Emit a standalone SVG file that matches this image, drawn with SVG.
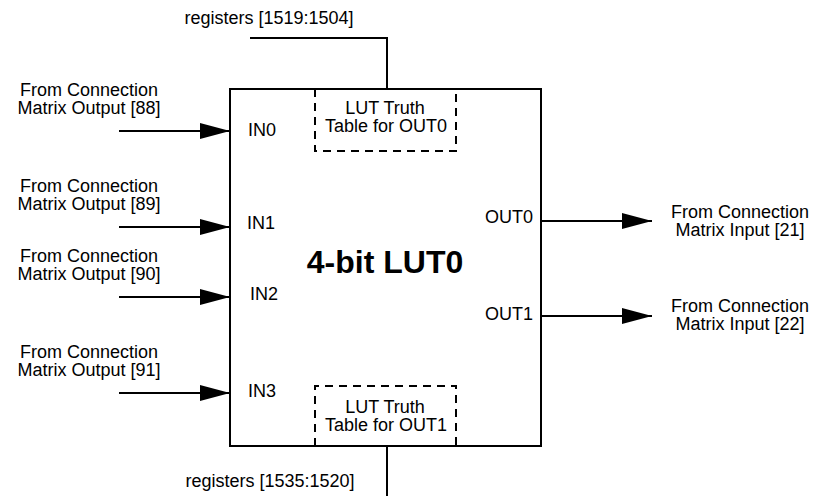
<svg xmlns="http://www.w3.org/2000/svg" width="816" height="496" viewBox="0 0 816 496">
<style>
text{font-family:"Liberation Sans",Arial,sans-serif;font-size:18px;fill:#000}
.c{text-anchor:middle}
.e{text-anchor:end}
.big{font-size:32px;font-weight:bold}
.w{stroke:#000;stroke-width:2;fill:none}
.d{stroke:#000;stroke-width:2;fill:none;stroke-dasharray:8 6}
</style>
<defs>
<marker id="ah" viewBox="0 0 30 16" refX="30" refY="8" markerWidth="30" markerHeight="16" markerUnits="userSpaceOnUse" orient="auto">
<path d="M0,0 L30,8 L0,16 z" fill="#000"/>
</marker>
</defs>
<rect width="816" height="496" fill="#fff"/>
<g id="lut0">
<rect class="w" x="230" y="89" width="311" height="357"/>
<text class="big c" x="385" y="273">4-bit LUT0</text>
<text x="248" y="136">IN0</text>
<text x="247" y="229">IN1</text>
<text x="250" y="300">IN2</text>
<text x="248" y="397">IN3</text>
<text class="e" x="533" y="223">OUT0</text>
<text class="e" x="533" y="320">OUT1</text>
</g>
<g id="truth0">
<path class="d" d="M315,89 V151 H456 V89"/>
<text class="c" x="385" y="114">LUT Truth</text>
<text class="c" x="386" y="132">Table for OUT0</text>
</g>
<g id="truth1">
<path class="d" d="M315,446 V386 H456 V446"/>
<text class="c" x="385" y="413">LUT Truth</text>
<text class="c" x="386" y="431">Table for OUT1</text>
</g>
<g id="reg-top"><text class="c" x="269" y="24">registers [1519:1504]</text></g>
<g id="reg-bot"><text class="c" x="270" y="487">registers [1535:1520]</text></g>
<g id="in88"><text class="c" x="89" y="96">From Connection</text><text class="c" x="89" y="114">Matrix Output [88]</text></g>
<g id="in89"><text class="c" x="89" y="192">From Connection</text><text class="c" x="89" y="210">Matrix Output [89]</text></g>
<g id="in90"><text class="c" x="89" y="262">From Connection</text><text class="c" x="89" y="280">Matrix Output [90]</text></g>
<g id="in91"><text class="c" x="89" y="358">From Connection</text><text class="c" x="89" y="376">Matrix Output [91]</text></g>
<g id="out21"><text class="c" x="740" y="218">From Connection</text><text class="c" x="740" y="236">Matrix Input [21]</text></g>
<g id="out22"><text class="c" x="740" y="312">From Connection</text><text class="c" x="740" y="330">Matrix Input [22]</text></g>
<g id="connectors">
<path class="w" d="M250,38 H387 V89"/>
<path class="w" d="M387,446 V496"/>
<line class="w" x1="119" y1="131" x2="230" y2="131" marker-end="url(#ah)"/>
<line class="w" x1="119" y1="227" x2="230" y2="227" marker-end="url(#ah)"/>
<line class="w" x1="119" y1="297" x2="230" y2="297" marker-end="url(#ah)"/>
<line class="w" x1="119" y1="393" x2="230" y2="393" marker-end="url(#ah)"/>
<line class="w" x1="541" y1="221" x2="652" y2="221" marker-end="url(#ah)"/>
<line class="w" x1="541" y1="316" x2="652" y2="316" marker-end="url(#ah)"/>
</g>
</svg>
